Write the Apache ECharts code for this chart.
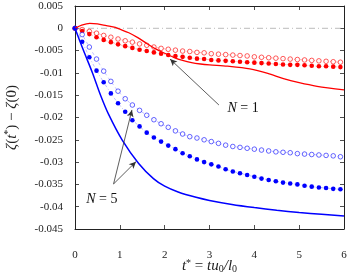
<!DOCTYPE html>
<html><head><meta charset="utf-8">
<script src="https://cdn.jsdelivr.net/npm/echarts@6/dist/echarts.min.js"></script>
<style>html,body{margin:0;padding:0;background:#fff}#c{width:350px;height:273px}</style>
</head><body><div id="c"></div>
<script>
// time points of the marker series
const tDots = [0,0.16,0.32,0.48,0.64,0.80,0.96,1.12,1.28,1.44,1.60,1.76,1.92,2.08,2.24,2.40,2.56,2.72,2.88,3.04,3.20,3.36,3.52,3.68,3.84,4.00,4.16,4.32,4.48,4.64,4.80,4.96,5.12,5.28,5.44,5.60,5.76,5.92];
// N = 1, open circles
const red_open = [0,-0.0003,-0.0007,-0.0011,-0.0016,-0.0020,-0.0024,-0.0028,-0.0031,-0.0035,-0.0038,-0.0042,-0.0045,-0.0047,-0.0049,-0.0051,-0.0052,-0.0054,-0.0055,-0.0057,-0.0058,-0.0059,-0.0060,-0.0061,-0.0062,-0.0064,-0.0065,-0.0066,-0.0067,-0.0068,-0.0069,-0.0070,-0.0071,-0.0072,-0.0073,-0.0074,-0.0075,-0.0076];
// N = 1, filled circles
const red_filled = [0,-0.0006,-0.0013,-0.0020,-0.0026,-0.0031,-0.0036,-0.0040,-0.0044,-0.0048,-0.0051,-0.0054,-0.0057,-0.0060,-0.0062,-0.0064,-0.0066,-0.0068,-0.0069,-0.0071,-0.0072,-0.0073,-0.0074,-0.0075,-0.0076,-0.0077,-0.0078,-0.0079,-0.0080,-0.0081,-0.0082,-0.0082,-0.0083,-0.0084,-0.0085,-0.0085,-0.0086,-0.0087];
// N = 5, open circles
const blue_open = [0,-0.0014,-0.0042,-0.0069,-0.0096,-0.0119,-0.0141,-0.0158,-0.0172,-0.0184,-0.0195,-0.0205,-0.0214,-0.0222,-0.0230,-0.0237,-0.0243,-0.0246,-0.0250,-0.0254,-0.0258,-0.0262,-0.0265,-0.0267,-0.0269,-0.0271,-0.0273,-0.0275,-0.0277,-0.0278,-0.0279,-0.0281,-0.0282,-0.0283,-0.0284,-0.0285,-0.0286,-0.0288];
// N = 5, filled circles
const blue_filled = [0,-0.0030,-0.0065,-0.0095,-0.0121,-0.0146,-0.0168,-0.0187,-0.0206,-0.0220,-0.0234,-0.0245,-0.0254,-0.0263,-0.0271,-0.0280,-0.0287,-0.0294,-0.0300,-0.0305,-0.0310,-0.0316,-0.0321,-0.0325,-0.0329,-0.0333,-0.0337,-0.0340,-0.0343,-0.0346,-0.0348,-0.0350,-0.0353,-0.0355,-0.0357,-0.0358,-0.0360,-0.0361];
// N = 1, solid line
const tRedLine = [0,0.15,0.33,0.5,0.7,0.9,1.0,1.2,1.4,1.6,1.8,2.0,2.2,2.4,2.6,2.8,3.0,3.4,3.9,4.3,4.65,5.0,5.4,6.0];
const red_line = [0,0.0007,0.0011,0.0010,0.0006,0.0002,-0.0002,-0.0010,-0.0021,-0.0034,-0.0046,-0.0056,-0.0065,-0.0072,-0.0077,-0.0080,-0.0082,-0.0085,-0.0091,-0.0101,-0.0113,-0.0122,-0.0130,-0.0138];
// N = 5, solid line
const tBlueLine = [0,0.19,0.39,0.57,0.75,1.05,1.42,1.75,2.0,2.3,2.7,3.0,3.5,4.0,4.5,5.0,5.5,6.0];
const blue_line = [0,-0.0050,-0.0100,-0.0150,-0.0193,-0.0250,-0.0303,-0.0337,-0.0354,-0.0367,-0.0379,-0.0386,-0.0395,-0.0402,-0.0408,-0.0413,-0.0417,-0.0421];
// axis ticks
const xTicks = [0,1,2,3,4,5,6];
const yTicks = [0.005,0,-0.005,-0.01,-0.015,-0.02,-0.025,-0.03,-0.035,-0.04,-0.045];
// annotation arrows [from, to] in data coordinates
const arrowN1 = [[3.21,-0.0172],[2.12,-0.0069]];
const arrowN5a = [[0.86,-0.0349],[1.27,-0.0183]];
const arrowN5b = [[0.86,-0.0349],[1.36,-0.0299]];
const labelN1 = {text:'N = 1', at:[3.75,-0.0180]};
const labelN5 = {text:'N = 5', at:[0.60,-0.0383]};

const zip = (a,b) => a.map((v,i)=>[v,b[i]]);
const RED = '#ff0000', BLUE = '#0000ff', AX = '#222';
const FONT = 'Liberation Serif';

const chart = echarts.init(document.getElementById('c'), null, {renderer:'canvas'});
const axCommon = {
  axisLine:{show:true, onZero:false, lineStyle:{color:AX, width:1}},
  axisTick:{show:true, inside:true, length:4, lineStyle:{color:AX, width:0.8}},
  splitLine:{show:false}
};
const option = {
  animation:false,
  backgroundColor:'#fff',
  grid:{left:75, right:6, top:6, bottom:44, containLabel:false, outerBoundsMode:'none'},
  xAxis:[
    Object.assign({type:'value', min:xTicks[0], max:xTicks[xTicks.length-1], interval:1, position:'bottom',
      axisLabel:{margin:21, fontFamily:FONT, fontSize:11, color:AX},
      name:'{i|t}{s|*} = {i|tu}{b|0}{i|/l}{b|0}', nameLocation:'middle', nameGap:29, nameMoveOverlap:false,
      nameTextStyle:{fontFamily:FONT, fontSize:15, color:AX, verticalAlign:'top',
        rich:{i:{fontFamily:FONT,fontStyle:'italic',fontSize:15,color:AX,lineHeight:16},
              s:{fontFamily:FONT,fontSize:10,color:AX,verticalAlign:'top',lineHeight:16},
              b:{fontFamily:FONT,fontSize:10,color:AX,verticalAlign:'bottom',lineHeight:16}}}
    }, axCommon),
    Object.assign({type:'value', min:xTicks[0], max:xTicks[xTicks.length-1], interval:1, position:'top', axisLabel:{show:false}}, axCommon)
  ],
  yAxis:[
    Object.assign({type:'value', min:yTicks[yTicks.length-1], max:yTicks[0], interval:0.005, position:'left',
      axisLabel:{margin:12, fontFamily:FONT, fontSize:11, color:AX, formatter:v=>String(+(+v).toFixed(3))},
      name:'{i|ζ}({i|t}{s|*}) − {i|ζ}(0)', nameLocation:'middle', nameGap:54, nameRotate:90,
      nameTextStyle:{fontFamily:FONT, fontSize:15, color:AX,
        rich:{i:{fontFamily:FONT,fontStyle:'italic',fontSize:15,color:AX,lineHeight:18},
              s:{fontFamily:FONT,fontSize:10,color:AX,verticalAlign:'top',lineHeight:18}}}
    }, axCommon),
    Object.assign({type:'value', min:yTicks[yTicks.length-1], max:yTicks[0], interval:0.005, position:'right', axisLabel:{show:false}}, axCommon)
  ],
  series:[
    {type:'line', data:[[xTicks[0],0],[xTicks[xTicks.length-1],0]], symbol:'none', silent:true,
      lineStyle:{color:'#aaaaaa', width:0.8, type:[6,3,1,3]}, z:1},
    {type:'line', data:zip(tDots,red_open), symbol:'circle', symbolSize:4.6,
      itemStyle:{color:'#fff', borderColor:RED, borderWidth:0.8, opacity:0.8},
      lineStyle:{color:RED, width:0.5, type:[3,3], opacity:0.6}, z:3},
    {type:'line', data:zip(tDots,red_filled), symbol:'circle', symbolSize:4.6,
      itemStyle:{color:RED, borderWidth:0},
      lineStyle:{color:RED, width:0.5, type:[3,2,1,2], opacity:0.5}, z:3},
    {type:'line', data:zip(tDots,blue_open), symbol:'circle', symbolSize:4.6,
      itemStyle:{color:'#fff', borderColor:BLUE, borderWidth:0.8, opacity:0.75},
      lineStyle:{color:BLUE, width:0.5, type:[3,3], opacity:0.5}, z:3},
    {type:'line', data:zip(tDots,blue_filled), symbol:'circle', symbolSize:4.6,
      itemStyle:{color:BLUE, borderWidth:0},
      lineStyle:{color:BLUE, width:0.5, type:[3,2,1,2], opacity:0.5}, z:3},
    {type:'line', data:zip(tRedLine,red_line), symbol:'none', smooth:0.3,
      lineStyle:{color:RED, width:1.3}, z:4},
    {type:'line', data:zip(tBlueLine,blue_line), symbol:'none', smooth:0.3,
      lineStyle:{color:BLUE, width:1.5}, z:4},
    {type:'line', data:[], symbol:'none', z:5,
      markLine:{silent:true, symbol:['none','arrow'], symbolSize:[5,7], label:{show:false},
        lineStyle:{color:'#333', width:0.8, type:'solid'},
        data:[arrowN1,arrowN5a,arrowN5b].map(a=>[{coord:a[0]},{coord:a[1]}])}}
  ]
};
chart.setOption(option);
const mk = (lab) => {
  const p = chart.convertToPixel({xAxisIndex:0, yAxisIndex:0}, lab.at);
  const parts = lab.text.split(' = ');
  return {type:'text', x:p[0], y:p[1], z:10,
    style:{text:'{i|'+parts[0]+'} = '+parts[1], align:'center', verticalAlign:'middle',
      fontFamily:FONT, fontSize:14, fill:'#111',
      rich:{i:{fontFamily:FONT, fontStyle:'italic', fontSize:14, fill:'#111'}}}};
};
chart.setOption({graphic:[mk(labelN1), mk(labelN5)]});
</script></body></html>
